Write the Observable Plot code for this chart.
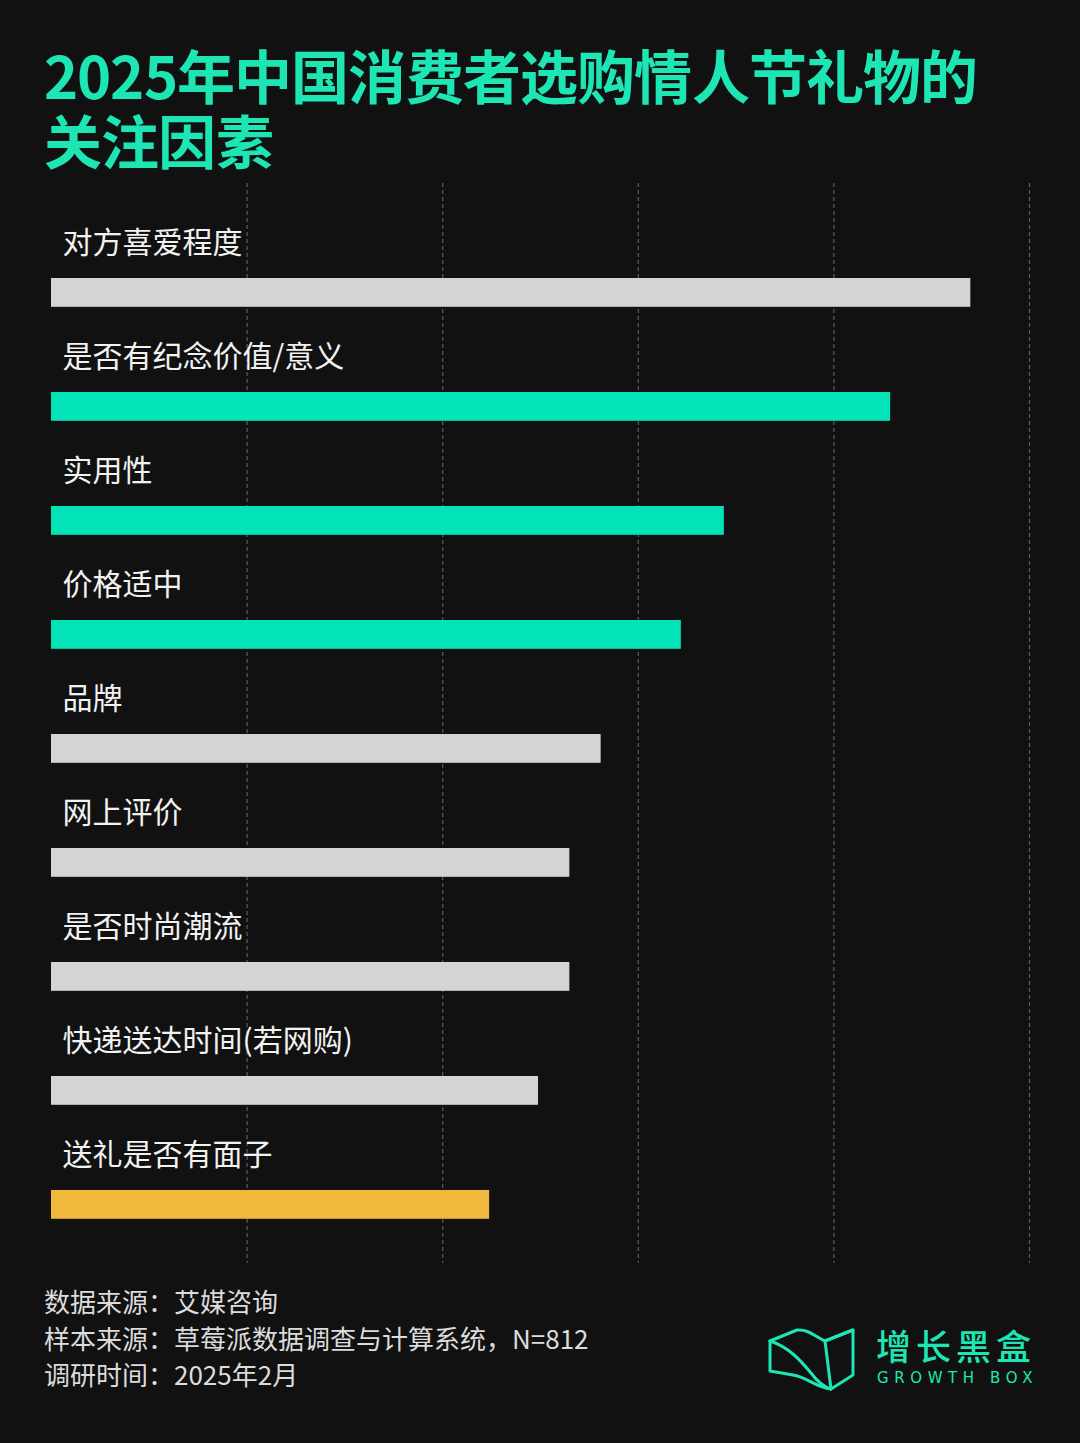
<!DOCTYPE html>
<html>
<head>
<meta charset="utf-8">
<script src="https://cdn.jsdelivr.net/npm/d3@7"></script>
<script src="https://cdn.jsdelivr.net/npm/@observablehq/plot@0.6"></script>
<style>
  @font-face {
    font-family: "TitleCJK";
    src: local("Noto Sans CJK SC Bold"), local("NotoSansCJKsc-Bold");
    font-weight: 700;
    ascent-override: 92%;
    descent-override: 12%;
    line-gap-override: 0%;
  }
  html, body { margin: 0; padding: 0; background: #111111; }
  body { width: 1080px; height: 1443px; position: relative; overflow: hidden; font-family: "Noto Sans CJK SC", "Noto Sans", sans-serif; }
  .title { position: absolute; left: 44px; font-family: "TitleCJK", "Noto Sans CJK SC", sans-serif; font-size: 58px; line-height: 60px; font-weight: 700; color: #1de6b4; letter-spacing: -0.8px; white-space: nowrap; }
  #t1 { top: 46px; }
  #t2 { top: 111px; }
  #chart { position: absolute; left: 0; top: 183px; }
  #footer { position: absolute; left: 44px; top: 1283px; font-size: 26px; line-height: 36.5px; color: #dcdcdc; }
  #logo { position: absolute; left: 767px; top: 1325px; width: 280px; height: 70px; }
  #logo .cn { position: absolute; left: 109px; top: -6px; font-size: 35px; letter-spacing: 5px; color: #1de6b4; font-weight: 500; white-space: nowrap; }
  #logo .en { position: absolute; left: 110px; top: 44px; font-size: 15px; letter-spacing: 5.6px; color: #1de6b4; white-space: nowrap; font-family: "DejaVu Sans", sans-serif; }
</style>
</head>
<body>
<div class="title" id="t1">2025年中国消费者选购情人节礼物的</div>
<div class="title" id="t2">关注因素</div>
<div id="chart"></div>
<div id="footer">数据来源：艾媒咨询<br>样本来源：草莓派数据调查与计算系统，N=812<br>调研时间：2025年2月</div>
<div id="logo">
  <svg width="92" height="68" viewBox="0 0 92 68" style="position:absolute;left:0;top:0">
    <g fill="none" stroke="#1de6b4" stroke-width="3" stroke-linejoin="round" stroke-linecap="round">
      <path d="M3 16 L30 5 C42 4 48 12 58 16 L86 5 L86 50 L64 64 L58 16"/>
      <path d="M3 16 L3 46 L26 50 C40 52 48 62 64 64"/>
      <path d="M3 16 C22 22 34 36 44 48 C50 56 56 62 64 64"/>
      <path d="M58 16 C68 12 78 8 86 5"/>
    </g>
  </svg>
  <div class="cn">增长黑盒</div>
  <div class="en">GROWTH BOX</div>
</div>
<script>
const categories = ["对方喜爱程度","是否有纪念价值/意义","实用性","价格适中","品牌","网上评价","是否时尚潮流","快递送达时间(若网购)","送礼是否有面子"];
const values = [47.0, 42.9, 34.4, 32.2, 28.1, 26.5, 26.5, 24.9, 22.4];
const groups = ["other","highlight","highlight","highlight","other","other","other","other","face"];
const gridTicks = [10, 20, 30, 40, 50];

const data = categories.map((c, i) => ({category: c, value: values[i], group: groups[i]}));

const chart = Plot.plot({
  width: 1080,
  height: 1080,
  margin: 0,
  style: {background: "transparent", fontFamily: "'Noto Sans CJK SC', sans-serif"},
  x: {domain: [0, 50], range: [51, 1029], axis: null},
  y: {domain: categories, range: [8, 1040.3], padding: 0, axis: null},
  color: {domain: ["other", "highlight", "face"], range: ["#d5d3d4", "#02e4b8", "#f0b83c"]},
  marks: [
    Plot.ruleX(gridTicks, {stroke: "#5c5c5c", strokeWidth: 1.2, strokeDasharray: "4,3"}),
    Plot.barX(data, {x: "value", y: "category", fill: "group", insetTop: 84, insetBottom: 1.2}),
    Plot.text(data, {x: 0, y: "category", text: "category", textAnchor: "start", lineAnchor: "bottom", dx: 11, dy: 1, fill: "#f2f2f2", fontSize: 30})
  ]
});
document.getElementById("chart").appendChild(chart);
</script>
</body>
</html>
